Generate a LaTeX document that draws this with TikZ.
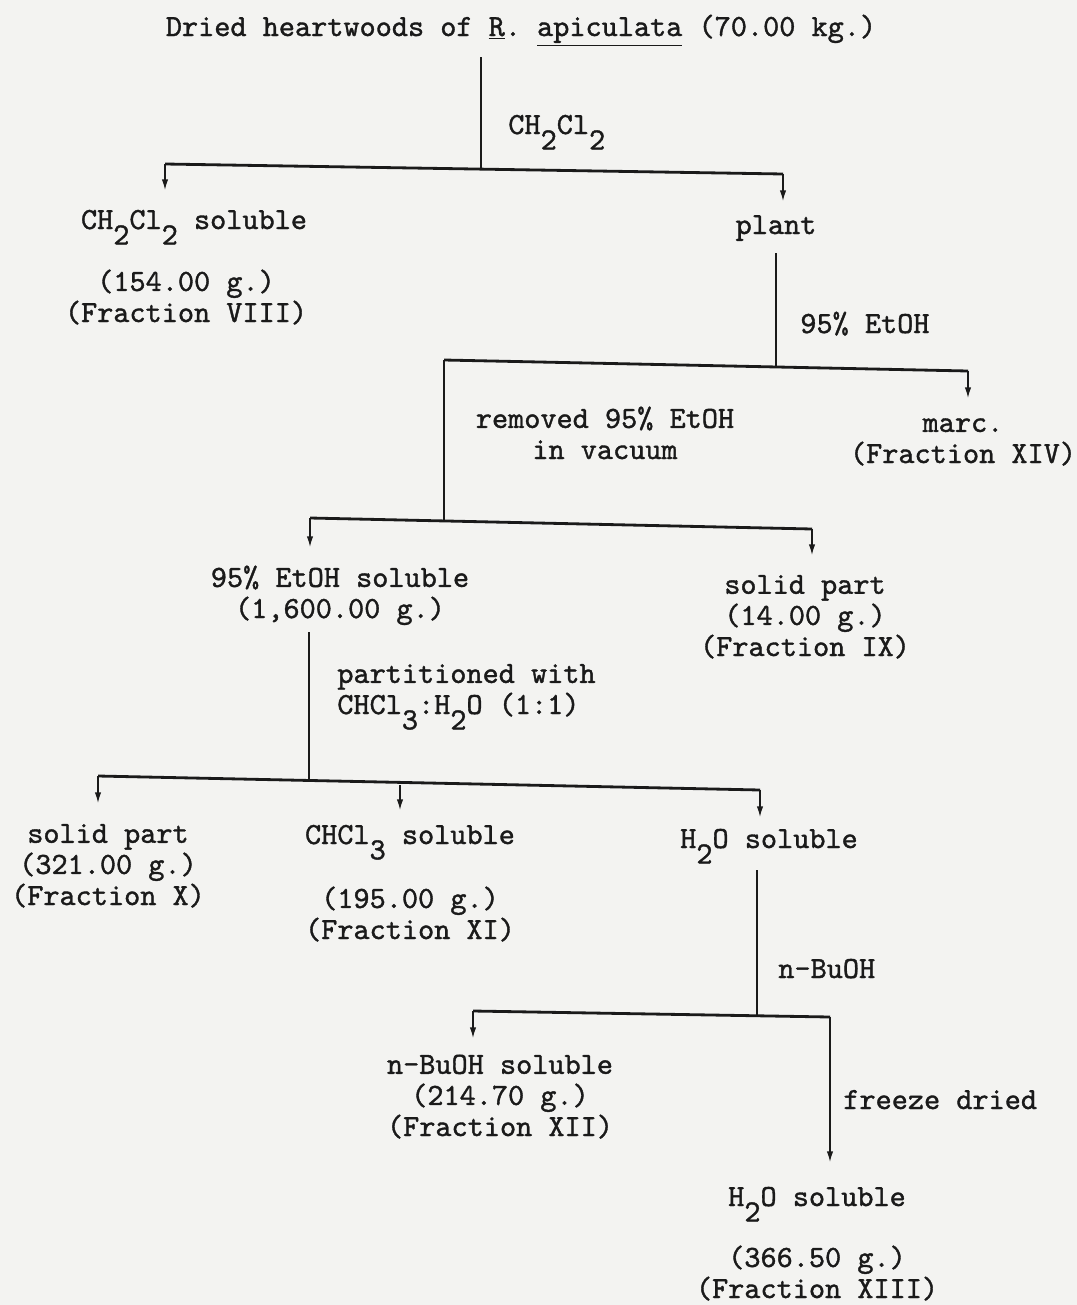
\documentclass[tikz,border=0pt]{standalone}
\usepackage{fontspec}
\setmonofont{lmmono10-regular.otf}[FakeBold=1.2]
\usetikzlibrary{arrows.meta,calc,positioning}
\definecolor{tpInk}  {HTML}{1A1A1A}
\definecolor{tpPaper}{HTML}{F3F3F1}
\newcommand{\tsub}[1]{\raisebox{-0.5em}{#1}}

\begin{document}
\begin{tikzpicture}[x=0.02cm, y=-0.02cm,
  every node/.style ={font=\ttfamily\fontsize{17.5}{17.7}\selectfont, text=tpInk, inner sep=0pt},
  item/.style       ={align=center, anchor=base},
  cond/.style       ={align=left, anchor=base west},
  stem/.style       ={line width=0.7pt, tpInk},
  bar/.style        ={line width=1.6pt, tpInk, line join=round},
  arr/.style        ={-{Latex[length=6pt, width=3.6pt]}, line width=0.7pt, tpInk},
]

\fill[tpPaper] (0,0) rectangle (1077,1305);
\useasboundingbox (0,0) rectangle (1077,1305);

% stage 1: CH2Cl2
\node[item] (wood) at (521,36) {Dried heartwoods of \underline{R}. \underline{apiculata} (70.00 kg.)};
\coordinate (s1) at (481,57);
\coordinate (j1) at (481,169);
\coordinate (b1l) at (165,164);  \coordinate (t1l) at (165,190);
\coordinate (b1r) at (783,174);  \coordinate (t1r) at (783,201);
\draw[stem] (s1) -- (j1);
\draw[bar] (b1l) -- (b1r);
\draw[arr] (b1l) -- (t1l);
\draw[arr] (b1r) -- (t1r);
\node[cond] (cA) at (508,134) {CH\tsub{2}Cl\tsub{2}};

\node[item] (dcm)  at (194,229) {CH\tsub{2}Cl\tsub{2} soluble};
\node[item] (dcmw) at (186,322) {(154.00 g.)\\(Fraction VIII)};
\node[item] (plant) at (776,234) {plant};

% stage 2: 95% EtOH
\coordinate (s2) at (776,253);
\coordinate (j2) at (776,367);
\coordinate (b2l) at (444,360);
\coordinate (b2r) at (968,371);  \coordinate (t2r) at (968,398);
\draw[stem] (s2) -- (j2);
\draw[bar] (b2l) -- (b2r);
\draw[arr] (b2r) -- (t2r);
\node[cond] (cB) at (800,333) {95\% EtOH};
\node[item] (marc) at (963,463) {marc.\\(Fraction XIV)};
\node[item] (cC) at (605,459) {removed 95\% EtOH\\in vacuum};

% stage 3: evaporation
\coordinate (j3) at (444,521);
\coordinate (b3l) at (310,518);  \coordinate (t3l) at (310,547);
\coordinate (b3r) at (812,529);  \coordinate (t3r) at (812,555);
\draw[stem] (b2l) -- (j3);
\draw[bar] (b3l) -- (b3r);
\draw[arr] (b3l) -- (t3l);
\draw[arr] (b3r) -- (t3r);
\node[item] (etsol) at (340,618) {95\% EtOH soluble\\(1,600.00 g.)};
\node[item] (solA)  at (805,656) {solid part\\(14.00 g.)\\(Fraction IX)};

% stage 4: CHCl3/H2O
\coordinate (s4) at (309,632);
\coordinate (j4) at (309,780);
\coordinate (b4l) at (98,776);   \coordinate (t4l) at (98,803);
\coordinate (b4m) at (400,785);  \coordinate (t4m) at (400,810);
\coordinate (b4r) at (760,790);  \coordinate (t4r) at (760,817);
\draw[stem] (s4) -- (j4);
\draw[bar] (b4l) -- (b4r);
\draw[arr] (b4l) -- (t4l);
\draw[arr] (b4m) -- (t4m);
\draw[arr] (b4r) -- (t4r);
\node[cond] (cD) at (337,714) {partitioned with\\CHCl\tsub{3}:H\tsub{2}O (1:1)};

\node[item] (solB)  at (108,905) {solid part\\(321.00 g.)\\(Fraction X)};
\node[item] (chcl)  at (410,844) {CHCl\tsub{3} soluble};
\node[item] (chclw) at (410,939) {(195.00 g.)\\(Fraction XI)};
\node[item] (watA)  at (769,848) {H\tsub{2}O soluble};

% stage 5: n-BuOH
\coordinate (s5) at (757,870);
\coordinate (j5) at (757,1015);
\coordinate (b5l) at (473,1011); \coordinate (t5l) at (473,1038);
\coordinate (b5r) at (830,1017); \coordinate (t5r) at (830,1162);
\draw[stem] (s5) -- (j5);
\draw[bar] (b5l) -- (b5r);
\draw[arr] (b5l) -- (t5l);
\draw[arr] (b5r) -- (t5r);
\node[cond] (cE) at (778,978)  {n-BuOH};
\node[cond] (cF) at (843,1109) {freeze dried};

\node[item] (buoh)  at (500,1136) {n-BuOH soluble\\(214.70 g.)\\(Fraction XII)};
\node[item] (watB)  at (817,1206) {H\tsub{2}O soluble};
\node[item] (watBw) at (817,1298) {(366.50 g.)\\(Fraction XIII)};

\end{tikzpicture}
\end{document}
